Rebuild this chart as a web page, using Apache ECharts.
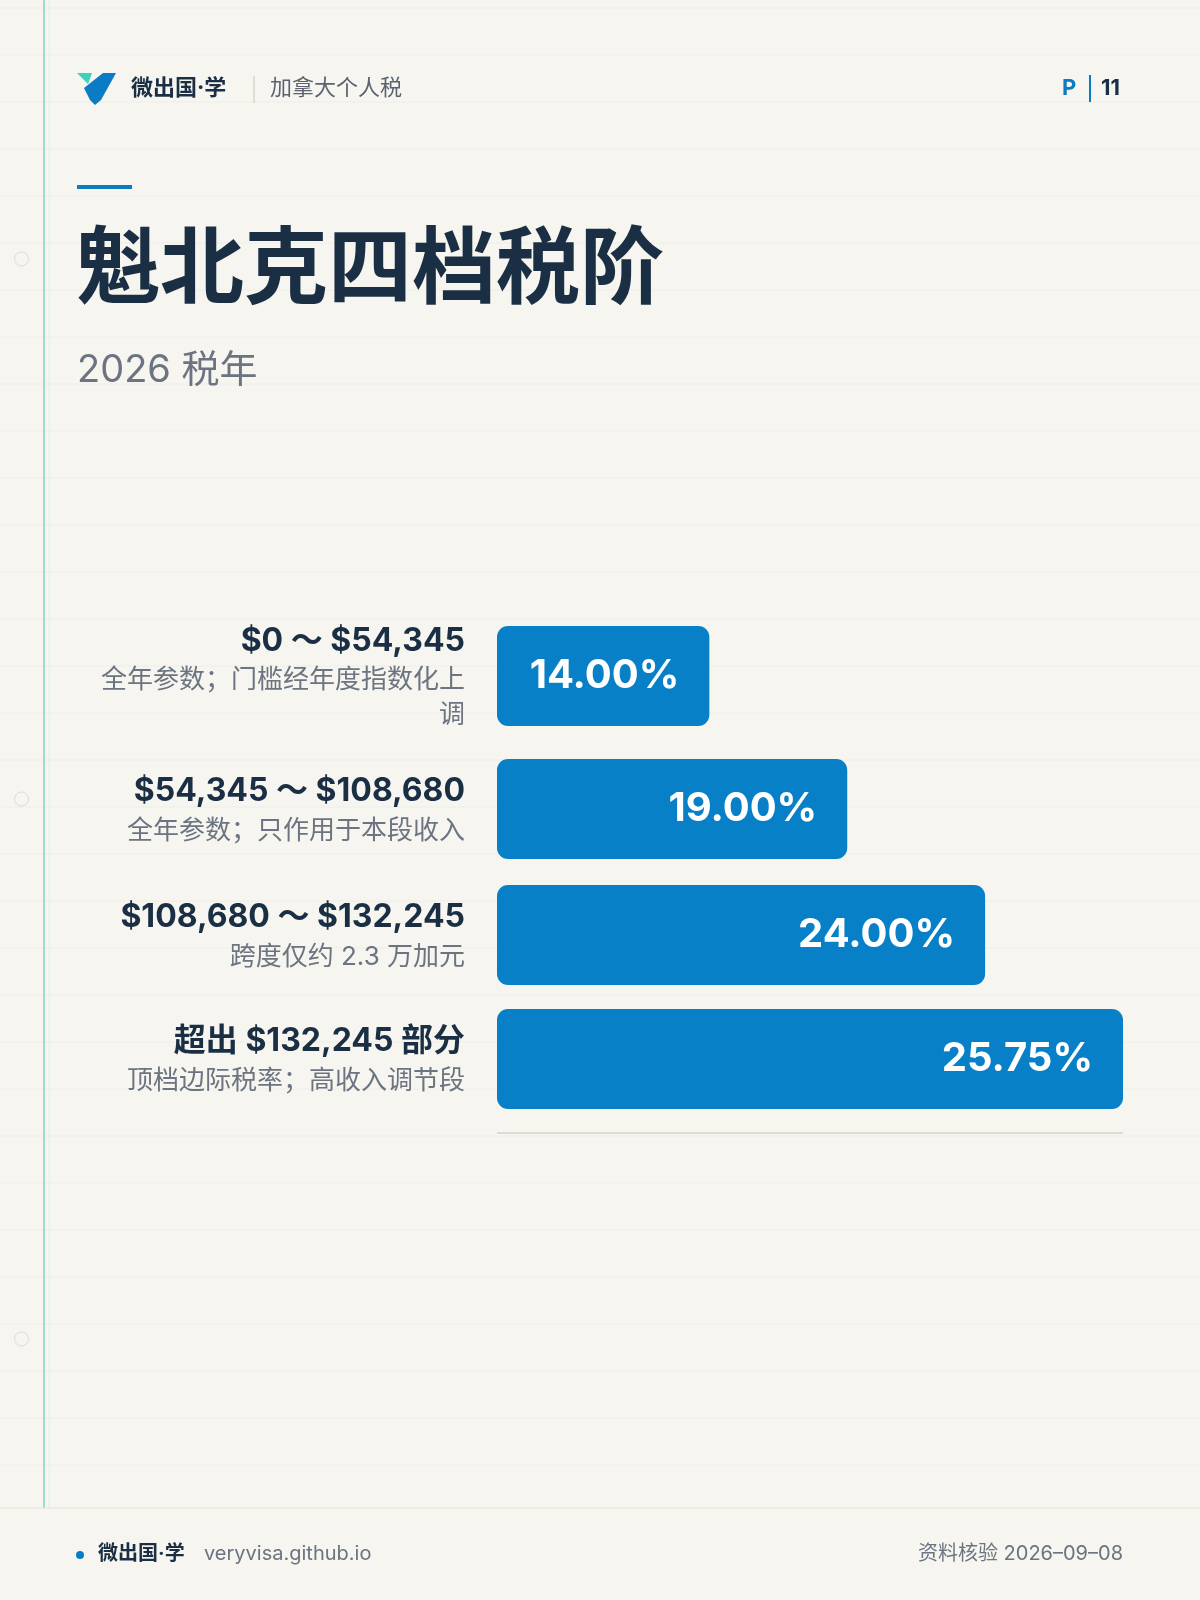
<!DOCTYPE html>
<html><head><meta charset="utf-8">
<script src="https://cdn.jsdelivr.net/npm/echarts@6/dist/echarts.min.js"></script>
<style>html,body{margin:0;padding:0;background:#f6f5ef}#c{width:1200px;height:1600px}</style>
</head><body><div id="c"></div>
<script>
const ranges = ['$0 ～ $54,345', '$54,345 ～ $108,680', '$108,680 ～ $132,245', '超出 $132,245 部分'];
const notes = ['全年参数；门槛经年度指数化上\n调', '全年参数；只作用于本段收入', '跨度仅约 2.3 万加元', '顶档边际税率；高收入调节段'];
const rates = ['14.00%', '19.00%', '24.00%', '25.75%'];
const barLengths = [1.54, 2.54, 3.54, 4.54];   // relative bar length (equal steps per tier)
const centers = [676, 809, 935, 1059];

const F = 'Inter,"Noto Sans CJK SC",sans-serif';
const chart = echarts.init(document.getElementById('c'));
const grids = [], xAxes = [], yAxes = [], series = [];
barLengths.forEach((v, i) => {
  grids.push({left: 497, right: 77, top: centers[i] - 50, height: 100});
  xAxes.push({gridIndex: i, type: 'value', min: 0, max: 4.54, show: false});
  yAxes.push({gridIndex: i, type: 'category', data: [ranges[i]], axisLine: {show: false}, axisTick: {show: false},
    axisLabel: {margin: 32, align: 'right', verticalAlign: 'middle',
      formatter: () => '{a|' + ranges[i] + '}\n{b|' + notes[i].split('\n').join('}\n{b|') + '}',
      rich: {a: {fontFamily: F, fontSize: 32, fontWeight: 'bold', color: '#1a2e44', align: 'right', lineHeight: 44},
             b: {fontFamily: F, fontSize: 26, color: '#6b7480', align: 'right', lineHeight: 35}}}});
  series.push({type: 'bar', xAxisIndex: i, yAxisIndex: i, data: [v], barWidth: 100, silent: true,
    itemStyle: {color: '#0880c8', borderRadius: 11},
    label: {show: true, position: 'insideRight', distance: 30, formatter: () => rates[i],
      color: '#fff', fontFamily: F, fontSize: 40, fontWeight: 'bold'}});
});

const g = [];
for (let y = 8; y < 1508; y += 47) g.push({type: 'line', shape: {x1: 0, y1: y, x2: 1200, y2: y}, style: {stroke: 'rgba(0,0,0,0.035)', lineWidth: 1}, z: -10});
g.push(
  {type: 'line', shape: {x1: 44, y1: 0, x2: 44, y2: 1508}, style: {stroke: '#9fdcd0', lineWidth: 2}},
  {type: 'line', shape: {x1: 49, y1: 0, x2: 49, y2: 1508}, style: {stroke: '#e2eee9', lineWidth: 1}},
  ...[259, 799, 1339].map(y => ({type: 'circle', shape: {cx: 21.5, cy: y, r: 7}, style: {fill: 'none', stroke: '#dcdcd6', lineWidth: 1}})),
  {type: 'polygon', shape: {points: [[77, 73], [92, 73], [88, 84]]}, style: {fill: '#3fd0bf'}},
  {type: 'polygon', shape: {points: [[84, 88], [103, 73], [116, 73], [101, 100], [95, 105], [90, 100]]}, style: {fill: '#0a7cc4'}},
  {type: 'text', left: 131, top: 77, style: {text: '微出国·学', font: 'bold 22px ' + F, fill: '#1a2e44'}},
  {type: 'line', shape: {x1: 254, y1: 76, x2: 254, y2: 103}, style: {stroke: '#d8d4c8', lineWidth: 1.5}},
  {type: 'text', left: 270, top: 77, style: {text: '加拿大个人税', font: '22px ' + F, fill: '#5a6470'}},
  {type: 'text', left: 1062, top: 77, style: {text: 'P', font: 'bold 22px ' + F, fill: '#0a7cc4'}},
  {type: 'line', shape: {x1: 1090, y1: 75, x2: 1090, y2: 102}, style: {stroke: '#0a7cc4', lineWidth: 2}},
  {type: 'text', left: 1101, top: 77, style: {text: '11', font: 'bold 22px ' + F, fill: '#1a2e44'}},
  {type: 'rect', shape: {x: 77, y: 185, width: 55, height: 4}, style: {fill: '#0a7cc4'}},
  {type: 'text', left: 76, top: 230, style: {text: '魁北克四档税阶', font: 'bold 84px ' + F, fill: '#1a2e44'}},
  {type: 'text', left: 77, top: 352, style: {text: '2026 税年', font: '38px ' + F, fill: '#6b7480'}},
  {type: 'line', shape: {x1: 497, y1: 1133, x2: 1123, y2: 1133}, style: {stroke: '#dddcd4', lineWidth: 2}},
  {type: 'line', shape: {x1: 0, y1: 1508, x2: 1200, y2: 1508}, style: {stroke: '#e4e2da', lineWidth: 1}},
  {type: 'circle', shape: {cx: 80, cy: 1555, r: 4}, style: {fill: '#0a7cc4'}},
  {type: 'text', left: 98, top: 1544, style: {text: '微出国·学', font: 'bold 20px ' + F, fill: '#1a2e44'}},
  {type: 'text', left: 204, top: 1544, style: {text: 'veryvisa.github.io', font: '20px ' + F, fill: '#6b7480'}},
  {type: 'text', right: 77, top: 1544, style: {text: '资料核验 2026–09–08', font: '20px ' + F, fill: '#6b7480'}}
);
chart.setOption({backgroundColor: '#f6f5ef', animation: false, grid: grids, xAxis: xAxes, yAxis: yAxes, series, graphic: g});
</script></body></html>
